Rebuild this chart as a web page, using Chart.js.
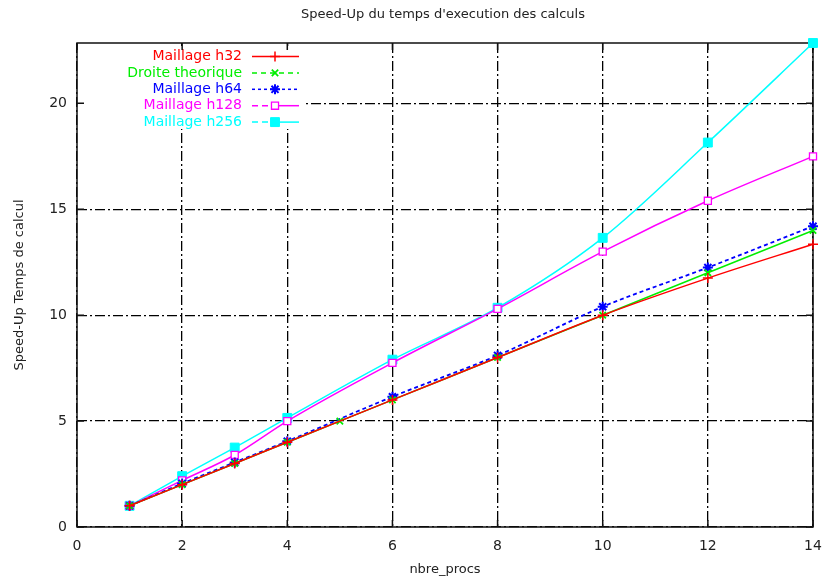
<!DOCTYPE html>
<html><head><meta charset="utf-8">
<script src="https://cdn.jsdelivr.net/npm/chart.js@4.4.1/dist/chart.umd.min.js"></script>
<style>html,body{margin:0;padding:0;background:#fff;}#wrap{width:822px;height:579px;}</style>
</head><body><div id="wrap"><canvas id="c" width="822" height="579"></canvas></div>
<script>
// ---- data ----
const chartTitle = "Speed-Up du temps d'execution des calculs";
const xTitle = "nbre_procs";
const yTitle = "Speed-Up Temps de calcul";
const seriesNames = ["Maillage h32", "Droite theorique", "Maillage h64", "Maillage h128", "Maillage h256"];
const procs = [1, 2, 3, 4, 6, 8, 10, 12, 14];
const theoProcs = [1, 2, 3, 4, 5, 6, 8, 10, 12, 14];
const h32 = [1, 2, 3, 4, 6, 8, 10.0, 11.75, 13.35];
const theo = [1, 2, 3, 4, 5, 6, 8, 10, 12, 14];
const h64 = [1, 2.05, 3.05, 4.05, 6.15, 8.1, 10.4, 12.25, 14.2];
const h128 = [1, 2.2, 3.4, 5.0, 7.75, 10.3, 13.0, 15.4, 17.5];
const h256 = [1, 2.4, 3.75, 5.15, 7.9, 10.35, 13.65, 18.15, 22.85];
const xTicks = [0, 2, 4, 6, 8, 10, 12, 14];
const yTicks = [0, 5, 10, 15, 20];
const xMin = 0, xMax = 14, yMin = 0, yMax = 22.85;

const pts = (xs, ys) => xs.map((x, i) => ({x: x, y: ys[i]}));
const FONT = "'DejaVu Sans', sans-serif";
const TXT = '#222';

const datasets = [
  {label: seriesNames[0], data: pts(procs, h32), borderColor: '#ff0000', backgroundColor: '#ff0000',
   pointStyle: 'cross', pointRadius: 5, pointBorderWidth: 1.5, borderWidth: 1.5, legendDash: []},
  {label: seriesNames[1], data: pts(theoProcs, theo), borderColor: '#00ee00', backgroundColor: '#00ee00',
   pointStyle: 'crossRot', pointRadius: 4.5, pointBorderWidth: 1.8, borderWidth: 1.5, legendDash: [5, 4]},
  {label: seriesNames[2], data: pts(procs, h64), borderColor: '#0000ff', backgroundColor: '#0000ff',
   pointStyle: 'star', pointRadius: 5, pointBorderWidth: 2, borderWidth: 1.8, borderDash: [4, 3], legendDash: [3, 3]},
  {label: seriesNames[3], data: pts(procs, h128), borderColor: '#ff00ff', backgroundColor: '#ffffff',
   pointStyle: 'rect', pointRadius: 5, pointBorderWidth: 1.3, borderWidth: 1.5, legendDash: [6, 4]},
  {label: seriesNames[4], data: pts(procs, h256), borderColor: '#00ffff', backgroundColor: '#00ffff',
   pointStyle: 'rect', pointRadius: 6.3, pointBorderWidth: 1, borderWidth: 1.5, legendDash: [6, 4]}
];
datasets.forEach(d => { d.fill = false; d.clip = false; d.cubicInterpolationMode = 'monotone'; d.pointHoverRadius = d.pointRadius; });

const titlePlugin = {
  id: 'gnuTitle',
  afterDraw(chart) {
    const ctx = chart.ctx, a = chart.chartArea;
    ctx.save();
    ctx.font = '13px ' + FONT;
    ctx.fillStyle = TXT;
    ctx.textAlign = 'center';
    ctx.textBaseline = 'middle';
    ctx.fillText(chartTitle, (a.left + a.right) / 2 - 2, 15);
    ctx.restore();
  }
};

const legendPlugin = {
  id: 'gnuLegend',
  beforeDatasetsDraw(chart) {
    const ctx = chart.ctx, a = chart.chartArea;
    ctx.save();
    ctx.fillStyle = '#fff';
    ctx.fillRect(a.left + 1, a.top + 3, 228, 83);
    chart.data.datasets.forEach((d, i) => {
      const y = a.top + 13.5 + i * 16.4;
      ctx.font = '14px ' + FONT;
      ctx.fillStyle = d.borderColor;
      ctx.textAlign = 'right';
      ctx.textBaseline = 'middle';
      ctx.fillText(d.label, 242, y);
      ctx.strokeStyle = d.borderColor;
      ctx.lineWidth = 1.5;
      ctx.setLineDash(d.legendDash);
      ctx.beginPath();
      if (i >= 3) {
        ctx.moveTo(252, y); ctx.lineTo(275, y); ctx.stroke();
        ctx.setLineDash([]);
        ctx.beginPath(); ctx.moveTo(275, y); ctx.lineTo(299, y);
      } else {
        ctx.moveTo(252, y); ctx.lineTo(299, y);
      }
      ctx.stroke();
      ctx.setLineDash([]);
      ctx.fillStyle = d.backgroundColor;
      ctx.lineWidth = d.pointBorderWidth;
      Chart.helpers.drawPoint(ctx, {pointStyle: d.pointStyle, radius: d.pointRadius, borderWidth: d.pointBorderWidth, rotation: 0}, 275, y);
    });
    ctx.restore();
  }
};

const framePlugin = {
  id: 'gnuFrame',
  beforeDatasetsDraw(chart) {
    const ctx = chart.ctx, a = chart.chartArea;
    const xs = chart.scales.x, ys = chart.scales.y;
    ctx.save();
    ctx.strokeStyle = '#111';
    ctx.lineWidth = 1.5;
    ctx.setLineDash([]);
    ctx.strokeRect(a.left, a.top, a.right - a.left, a.bottom - a.top);
    const L = 7;
    ctx.beginPath();
    xTicks.forEach(v => {
      const px = xs.getPixelForValue(v);
      ctx.moveTo(px, a.bottom); ctx.lineTo(px, a.bottom - L);
      ctx.moveTo(px, a.top); ctx.lineTo(px, a.top + L);
    });
    yTicks.forEach(v => {
      const py = ys.getPixelForValue(v);
      ctx.moveTo(a.left, py); ctx.lineTo(a.left + L, py);
      ctx.moveTo(a.right, py); ctx.lineTo(a.right - L, py);
    });
    ctx.stroke();
    ctx.restore();
  }
};

new Chart(document.getElementById('c'), {
  type: 'line',
  data: {datasets: datasets},
  plugins: [titlePlugin, legendPlugin, framePlugin],
  options: {
    responsive: false,
    animation: false,
    devicePixelRatio: 1,
    layout: {padding: {top: 43, right: 0, bottom: 0, left: 0}},
    plugins: {legend: {display: false}, title: {display: false}, tooltip: {enabled: false}},
    scales: {
      x: {
        type: 'linear', min: xMin, max: xMax,
        afterBuildTicks: s => { s.ticks = xTicks.map(v => ({value: v})); },
        afterFit: s => { s.height = 52; s.paddingRight = 9; s.paddingLeft = 0; },
        ticks: {padding: 11, color: TXT, font: {family: FONT, size: 14}, maxRotation: 0},
        grid: {color: '#000', lineWidth: 1.3, drawTicks: false},
        border: {display: false, dash: [10, 3, 2, 3]},
        title: {display: true, text: xTitle, color: TXT, font: {family: FONT, size: 13}, padding: {top: 0, bottom: 2}}
      },
      y: {
        type: 'linear', min: yMin, max: yMax,
        afterBuildTicks: s => { s.ticks = yTicks.map(v => ({value: v})); },
        afterFit: s => { s.width = 77; },
        ticks: {padding: 10, color: TXT, font: {family: FONT, size: 14}},
        grid: {color: '#000', lineWidth: 1.3, drawTicks: false},
        border: {display: false, dash: [10, 3, 2, 3]},
        title: {display: true, text: yTitle, color: TXT, font: {family: FONT, size: 13}, padding: {top: 12, bottom: 0}}
      }
    }
  }
});
</script>
</body></html>
